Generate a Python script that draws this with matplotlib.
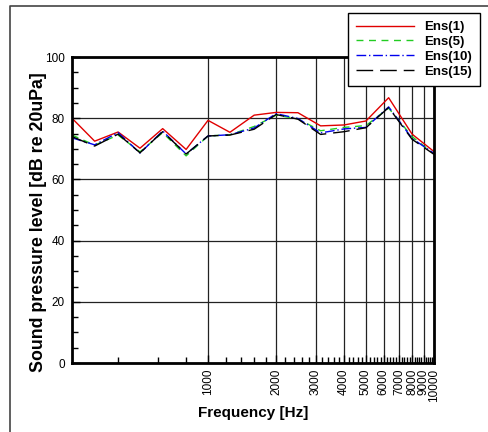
import numpy as np
import matplotlib
matplotlib.use('Agg')
import matplotlib.pyplot as plt
from matplotlib.lines import Line2D
from matplotlib.ticker import FixedLocator, NullFormatter, MultipleLocator

plt.rcParams['font.family'] = ['Liberation Sans', 'DejaVu Sans']

# third-octave band centres [Hz]
freq = [250, 315, 400, 500, 630, 800, 1000, 1250, 1600, 2000, 2500,
        3150, 4000, 5000, 6300, 8000, 10000]

# sound pressure level per ensemble [dB]
ens1 = [80.0, 72.5, 75.5, 70.2, 76.6, 69.8, 79.3, 75.4, 81.0, 81.9, 81.8,
        77.5, 77.8, 79.1, 86.7, 74.8, 69.1]
ens5 = [74.5, 71.2, 74.5, 69.0, 75.3, 67.7, 74.2, 74.6, 77.3, 81.0, 79.8,
        75.9, 77.0, 77.6, 83.3, 74.0, 68.3]
ens10 = [73.6, 71.3, 75.3, 68.6, 75.8, 68.3, 74.2, 74.6, 76.8, 81.5, 79.9,
         75.2, 76.5, 77.0, 83.7, 73.4, 68.5]
ens15 = [74.0, 70.9, 74.8, 68.7, 75.6, 68.3, 74.2, 74.5, 76.4, 81.2, 79.7,
         74.7, 75.6, 76.9, 83.5, 73.1, 68.2]

major_x = [1000, 2000, 3000, 4000, 5000, 6000, 7000, 8000, 9000, 10000]
minor_x = list(range(400, 10000, 200))

fig = plt.figure(figsize=(4.89, 4.32), dpi=100)
ax = fig.add_axes([0.1472, 0.1597, 0.7403, 0.7083])

ax.plot(freq, ens1, color='#e00000', lw=1.0, label='Ens(1)')
ax.plot(freq, ens5, color='#22cc22', lw=1.0, ls=(0, (5, 4)), label='Ens(5)')
ax.plot(freq, ens10, color='#0000ee', lw=1.0, ls=(0, (7, 2, 1, 2)), label='Ens(10)')
ax.plot(freq, ens15, color='black', lw=1.0, ls=(0, (12, 5)), label='Ens(15)')

ax.set_xscale('log')
ax.set_xlim(250, 10000)
ax.set_ylim(0, 100)

ax.xaxis.set_major_locator(FixedLocator(major_x))
ax.xaxis.set_minor_locator(FixedLocator(minor_x))
ax.xaxis.set_minor_formatter(NullFormatter())
ax.set_xticklabels([str(v) for v in major_x], rotation=90)
ax.yaxis.set_major_locator(MultipleLocator(20))
ax.yaxis.set_minor_locator(MultipleLocator(5))

ax.tick_params(which='both', direction='in', labelsize=8.5, width=1)
ax.tick_params(which='major', length=6, pad=5)
ax.tick_params(which='minor', length=4)
ax.tick_params(axis='x', which='major', pad=4)

ax.grid(True, which='major', color='#222222', lw=0.9)
for s in ax.spines.values():
    s.set_linewidth(2)

ax.set_xlabel('Frequency [Hz]', fontsize=11, fontweight='bold', labelpad=3)
ax.set_ylabel('Sound pressure level [dB re 20uPa]', fontsize=12.8,
              fontweight='bold')
ax.yaxis.set_label_coords(-0.07, 0.461)

leg = ax.legend(loc='upper right', bbox_to_anchor=(480 / 489, 1 - 13 / 432),
                bbox_transform=fig.transFigure, fancybox=False, shadow=False,
                edgecolor='black', framealpha=1, handlelength=4.4,
                prop={'weight': 'bold', 'size': 9.5}, borderpad=0.6,
                labelspacing=0.2, handletextpad=0.75, borderaxespad=0)
leg.get_frame().set_linewidth(1.0)

# outer frame
fig.add_artist(Line2D([10 / 489, 10 / 489, 1], [0, 1 - 6 / 432, 1 - 6 / 432],
                      transform=fig.transFigure, color='#444444', lw=1.2))

fig.savefig('out.png', dpi=100)
